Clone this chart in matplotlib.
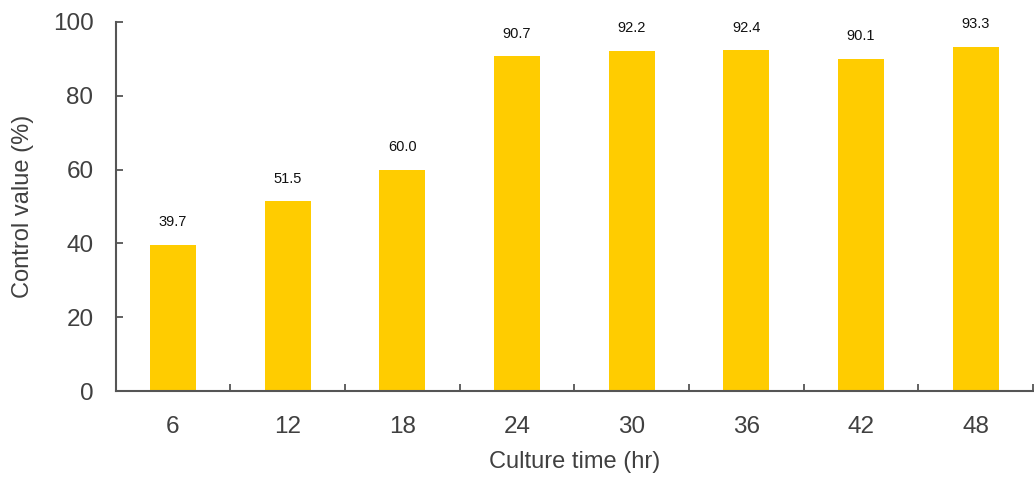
import matplotlib
matplotlib.use("Agg")
import matplotlib.pyplot as plt
import numpy as np

# Culture time (hr) and control value (%)
culture_time = ["6", "12", "18", "24", "30", "36", "42", "48"]
control_value = [39.7, 51.5, 60.0, 90.7, 92.2, 92.4, 90.1, 93.3]
y_ticks = [0, 20, 40, 60, 80, 100]

plt.rcParams["font.family"] = ["Liberation Sans", "DejaVu Sans"]

text_gray = "#404040"
axis_gray = "#555555"
bar_color = "#FFCC00"

fig = plt.figure(figsize=(10.34, 4.78), dpi=100)
ax = fig.add_axes([0.1118, 0.182, 0.8872, 0.772])

x = np.arange(len(culture_time))
bars = ax.bar(x, control_value, width=0.40, color=bar_color, zorder=2)

for xi, v in zip(x, control_value):
    ax.annotate(f"{v:.1f}", xy=(xi, v), xytext=(0, 11), textcoords="offset points",
                ha="center", va="bottom", fontsize=10.5, color="#111111")

ax.set_xlim(-0.5, len(culture_time) - 0.5)
ax.set_ylim(0, 100)

ax.set_yticks(y_ticks)
ax.set_yticklabels([str(t) for t in y_ticks])
ax.set_xticks(x)
ax.set_xticklabels(culture_time)

# category boundary ticks on the x axis
ax.set_xticks(np.arange(len(culture_time) + 1) - 0.5, minor=True)
ax.tick_params(axis="x", which="major", length=0, pad=18, labelsize=17.5, labelcolor=text_gray)
ax.tick_params(axis="x", which="minor", direction="in", length=5, width=1.3, color=axis_gray)
ax.tick_params(axis="y", direction="in", length=5, width=1.3, color=axis_gray,
               pad=16, labelsize=17.5, labelcolor=text_gray)

for side in ("top", "right"):
    ax.spines[side].set_visible(False)
for side in ("left", "bottom"):
    ax.spines[side].set_color(axis_gray)
    ax.spines[side].set_linewidth(1.5)

ax.set_xlabel("Culture time (hr)", fontsize=17, color=text_gray)
ax.set_ylabel("Control value (%)", fontsize=17, color=text_gray)
ax.xaxis.set_label_coords(0.5, -0.163)
ax.yaxis.set_label_coords(-0.089, 0.5)

fig.savefig("out.png", dpi=100)
